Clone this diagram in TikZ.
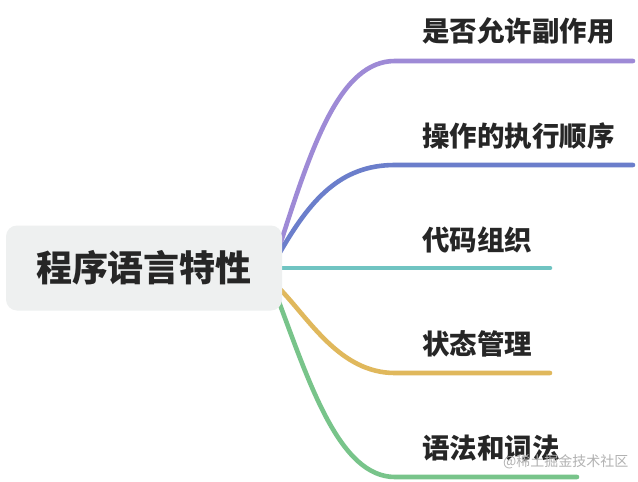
\documentclass[tikz,border=0pt]{standalone}
\usepackage{fontspec}
\setmainfont{Noto Sans CJK SC}
\begin{document}
\begin{tikzpicture}[x=1pt,y=-1pt,
  branch/.style={line width=4.6pt,line cap=round},
  lab/.style={anchor=west,inner sep=0pt,font=\fontsize{27.5}{27.5}\selectfont\bfseries,text=black!85},
  root/.style={fill=cbox,rounded corners=11pt,minimum width=276pt,minimum height=85pt,font=\fontsize{36}{36}\selectfont\bfseries,text=black!85}]
\definecolor{cpurple}{HTML}{9E8AD6}
\definecolor{cblue}{HTML}{6B7ECB}
\definecolor{cteal}{HTML}{70C4C2}
\definecolor{cyellow}{HTML}{E0B85C}
\definecolor{cgreen}{HTML}{78C48A}
\definecolor{cbox}{HTML}{EEF0F0}
\useasboundingbox (0,0) rectangle (638,482);
\fill[white] (0,0) rectangle (638,482);
\coordinate (s1) at (279,248); \coordinate (e1a) at (395,61); \coordinate (e1) at (633,61);
\coordinate (s2) at (279,254); \coordinate (e2a) at (395,165); \coordinate (e2) at (633,165);
\coordinate (s3) at (279,268); \coordinate (e3) at (550,268);
\coordinate (s4) at (279,288); \coordinate (e4a) at (395,373); \coordinate (e4) at (550,373);
\coordinate (s5) at (279,302); \coordinate (e5a) at (395,477); \coordinate (e5) at (577,477);
\draw[branch,cpurple] (s1) .. controls (312,145) and (340,61) .. (e1a) -- (e1);
\draw[branch,cblue] (s2) .. controls (310,200) and (340,165) .. (e2a) -- (e2);
\draw[branch,cteal] (s3) -- (e3);
\draw[branch,cyellow] (s4) .. controls (310,320) and (340,373) .. (e4a) -- (e4);
\draw[branch,cgreen] (s5) .. controls (310,385) and (340,477) .. (e5a) -- (e5);
\node[root] (r) at (144,268) {程序语言特性};
\node[lab] (l1) at (422,31) {是否允许副作用};
\node[lab] (l2) at (422,136) {操作的执行顺序};
\node[lab] (l3) at (422,240) {代码组织};
\node[lab] (l4) at (422,344) {状态管理};
\node[lab] (l5) at (422,448) {语法和词法};
\node[anchor=west,inner sep=0pt,font=\fontsize{14}{14}\selectfont,text=gray!60] (wm) at (503,462) {@稀土掘金技术社区};
\end{tikzpicture}
\end{document}
